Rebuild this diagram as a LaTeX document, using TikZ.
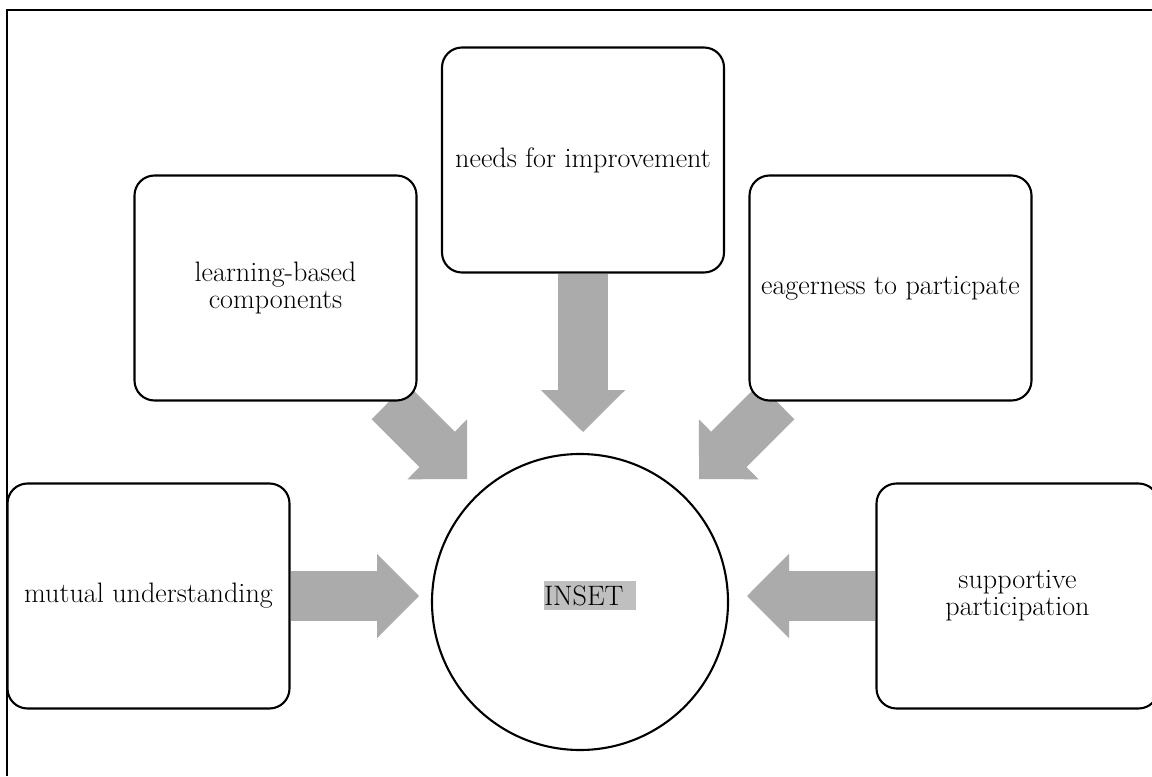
\documentclass[tikz,border=0pt]{standalone}
\usepackage{fontspec}
\usetikzlibrary{arrows.meta,backgrounds}
\definecolor{arrowgray}{HTML}{ABABAB}
\definecolor{markgray}{HTML}{BFBFBF}
\begin{document}
\begin{tikzpicture}[
    idea/.style={draw, line width=1.2pt, rounded corners=0.4cm, fill=white,
      minimum width=5.64cm, minimum height=4.5cm, align=center,
      font=\fontsize{16}{15.5}\selectfont},
    hub/.style={draw, circle, line width=1.2pt, fill=white, minimum size=5.92cm},
    hilite/.style={fill=markgray, inner sep=0pt, minimum height=0.58cm,
      font=\fontsize{16}{15.5}\selectfont},
    push/.style={arrowgray, line width=1cm,
      -{Triangle[width=1.68cm, length=0.84cm, line width=1.5pt]}}]
    \useasboundingbox (0,0) rectangle (23.04,15.52);
    \clip (0,0) rectangle (23.04,15.52);
    \draw[line width=1pt] (0.14,0) |- (23.04,15.32);
    \node[idea] (needs) at (11.66,12.32) {needs for improvement};
    \node[idea] (learn) at (5.51,9.76) {learning-based\\components};
    \node[idea] (eager) at (17.81,9.76) {eagerness to particpate};
    \node[idea] (mutual) at (2.97,3.6) {mutual understanding};
    \node[idea] (supp) at (20.35,3.6) {supportive\\participation};
    \node[hub] (inset) at (11.6,3.48) {};
    \node[hilite] (insetword) at ([xshift=0.2cm, yshift=0.13cm]inset.center) {\makebox[1.84cm][l]{INSET}};
    \coordinate (tipT) at (11.66,6.88);
    \coordinate (tipUL) at (9.34,5.94);
    \coordinate (tipUR) at (13.98,5.94);
    \coordinate (tipL) at (8.38,3.6);
    \coordinate (tipR) at (14.94,3.6);
    \begin{pgfonlayer}{background}
      \draw[push] (needs) -- (tipT);
      \draw[push] (learn) -- (tipUL);
      \draw[push] (eager) -- (tipUR);
      \draw[push] (mutual) -- (tipL);
      \draw[push] (supp) -- (tipR);
    \end{pgfonlayer}
\end{tikzpicture}
\end{document}
